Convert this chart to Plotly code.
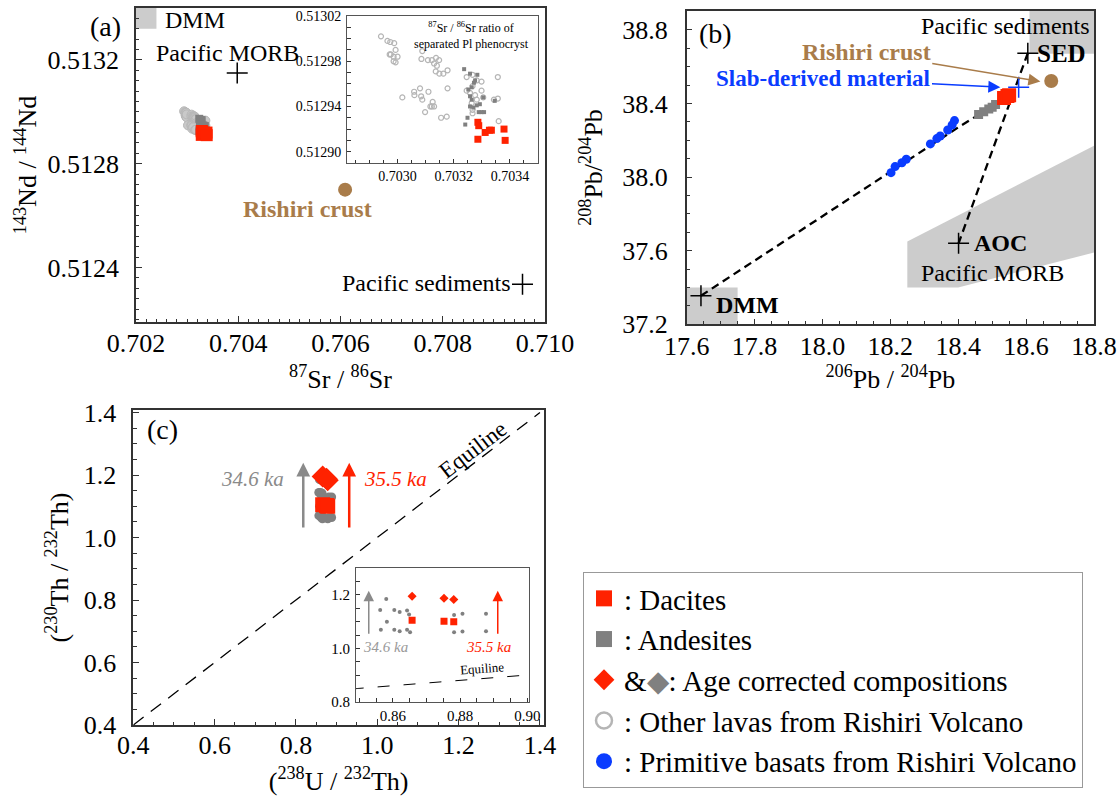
import plotly.graph_objects as go

W, H = 1120, 796
FONT = "Liberation Serif, Times New Roman, Tinos, serif"
RED = "#ff2200"
GRAY = "#808080"
LGRAY = "#c9c9c9"
BLUE = "#0a3cff"
BROWN = "#a97c4a"
REGION = "#cccccc"

# ---------------- Panel (a): Sr-Nd ----------------
other_sr = [0.702941, 0.702964, 0.702974, 0.702988, 0.702972, 0.702976, 0.702986, 0.703000,
            0.702986, 0.702993, 0.702993, 0.703088, 0.703085, 0.703108, 0.703122, 0.703137,
            0.703148, 0.703130, 0.703140, 0.703136, 0.703149, 0.703163, 0.703178, 0.703246,
            0.703267, 0.703282, 0.703299, 0.703267, 0.703246, 0.703258, 0.703276, 0.703282,
            0.703299, 0.703305, 0.703357, 0.703357, 0.703343, 0.703360, 0.703178, 0.703110,
            0.703080, 0.703059, 0.703060, 0.703017, 0.703084, 0.703088, 0.703098, 0.703125,
            0.703122, 0.703130, 0.703117, 0.703155, 0.703175, 0.703264, 0.703267, 0.703267]
other_nd = [0.513002, 0.512998, 0.512997, 0.512996, 0.512986, 0.512986, 0.512984, 0.512984,
            0.512980, 0.512979, 0.512990, 0.512989, 0.512982, 0.512981, 0.512981, 0.512983,
            0.512981, 0.512978, 0.512976, 0.512971, 0.512969, 0.512969, 0.512972, 0.512966,
            0.512968, 0.512963, 0.512962, 0.512958, 0.512954, 0.512952, 0.512950, 0.512946,
            0.512954, 0.512948, 0.512966, 0.512947, 0.512946, 0.512927, 0.512956, 0.512953,
            0.512956, 0.512953, 0.512950, 0.512948, 0.512949, 0.512946, 0.512935, 0.512944,
            0.512940, 0.512940, 0.512940, 0.512930, 0.512931, 0.512943, 0.512937, 0.512934]
and_sr = [0.703237, 0.703258, 0.703284, 0.703276, 0.703272, 0.703264, 0.703252, 0.703258,
          0.703264, 0.703258, 0.703270, 0.703282, 0.703293, 0.703289, 0.703299, 0.703308,
          0.703305, 0.703346, 0.703249, 0.703241]
and_nd = [0.512973, 0.512969, 0.512968, 0.512963, 0.512961, 0.512957, 0.512955, 0.512949,
          0.512946, 0.512940, 0.512939, 0.512941, 0.512942, 0.512935, 0.512935, 0.512935,
          0.512948, 0.512945, 0.512930, 0.512924]
dac_sr = [0.703286, 0.703289, 0.703286, 0.703312, 0.703327, 0.703334, 0.703379, 0.703383]
dac_nd = [0.512926, 0.512923, 0.512911, 0.512917, 0.512919, 0.512919, 0.512920, 0.512910]
em_a_names = ["Pacific MORB", "Pacific sediments"]
em_a_sr = [0.70398, 0.70956]
em_a_nd = [0.51315, 0.512335]
crust_a_sr = [0.70609]
crust_a_nd = [0.51270]
dmm_a_sr = [0.7020, 0.70240]
dmm_a_nd = [0.51332, 0.51345]
pl_band_sr = [0.70332, 0.70335]

# ---------------- Panel (b): Pb-Pb ----------------
bas_pb6 = [18.389, 18.382, 18.369, 18.347, 18.337, 18.318, 18.247, 18.234, 18.214, 18.202]
bas_pb8 = [38.307, 38.283, 38.256, 38.223, 38.209, 38.180, 38.097, 38.078, 38.057, 38.024]
and_pb6 = [18.460, 18.475, 18.490, 18.500, 18.510]
and_pb8 = [38.340, 38.355, 38.370, 38.380, 38.395]
dac_pb6 = [18.535, 18.545, 18.550]
dac_pb8 = [38.430, 38.440, 38.445]
crust_pb6 = [18.674]
crust_pb8 = [38.522]
slab_pb6 = [18.578]
slab_pb8 = [38.488]
em_b_names = ["DMM", "AOC", "SED"]
em_b_pb6 = [17.642, 18.401, 18.605]
em_b_pb8 = [37.355, 37.640, 38.673]
mix_dmm_pb6 = [17.642, 17.70, 17.80, 17.90, 18.00, 18.10, 18.20, 18.30, 18.40, 18.50, 18.545]
mix_dmm_pb8 = [37.355, 37.425, 37.545, 37.665, 37.785, 37.905, 38.025, 38.145, 38.270, 38.385, 38.440]
mix_aoc_pb6 = [18.605, 18.401]
mix_aoc_pb8 = [38.673, 37.640]
dmm_b_pb6 = [17.60, 17.75]
dmm_b_pb8 = [37.20, 37.40]
sed_b_pb6 = [18.61, 18.80]
sed_b_pb8 = [38.67, 38.95]
morb_b_pb6 = [18.25, 18.80, 18.80, 18.40, 18.25]
morb_b_pb8 = [37.65, 38.17, 37.59, 37.40, 37.40]

# ---------------- Panel (c): U-Th ----------------
andc_u = [0.8562, 0.8580, 0.8604, 0.8620, 0.8642, 0.8648, 0.8582, 0.8564, 0.8604,
          0.8620, 0.8642, 0.8651, 0.8782, 0.8807, 0.8877, 0.8782, 0.8807, 0.8877]
andc_th = [1.144, 1.185, 1.144, 1.136, 1.142, 1.127, 1.100, 1.070, 1.070,
           1.064, 1.070, 1.060, 1.125, 1.130, 1.130, 1.060, 1.063, 1.064]
dacc_u = [0.8657, 0.8752, 0.8781]
dacc_th = [1.105, 1.102, 1.100]
dacc_age_u = [0.8657, 0.8752, 0.8781]
dacc_age_th = [1.195, 1.188, 1.183]
equiline = [0.4, 1.4]
equiline_inset = [0.84, 0.91]
age_arrow_u = [0.818, 0.931]
age_arrow_th = [1.027, 1.239]
age_arrow_u_inset = [0.8528, 0.8912]
age_arrow_th_inset = [1.049, 1.216]
age_labels = ["34.6 ka", "35.5 ka"]


def xdom(p0, p1):
    return [p0 / W, p1 / W]


def ydom(top, bottom):
    return [1 - bottom / H, 1 - top / H]


def axis(size, **kw):
    d = dict(showline=True, linecolor="#333333", linewidth=1.5, mirror=True,
             ticks="inside", ticklen=6, tickwidth=1.2, tickcolor="#333333",
             showgrid=False, zeroline=False, automargin=False,
             tickfont=dict(family=FONT, size=size, color="black"),
             minor=dict(ticks="inside", ticklen=3.5, tickwidth=1, tickcolor="#333333", showgrid=False))
    d.update(kw)
    return d


fig = go.Figure()

# ---- Panel (a) main ----
fig.add_trace(go.Scatter(x=other_sr, y=other_nd, mode="markers", xaxis="x", yaxis="y",
                         marker=dict(symbol="circle", size=9, color=LGRAY, line=dict(color="#b8b8b8", width=1)),
                         legendgroup="oth", showlegend=False, name="Other lavas"))
fig.add_trace(go.Scatter(x=and_sr, y=and_nd, mode="markers", xaxis="x", yaxis="y",
                         marker=dict(symbol="square", size=8, color=GRAY),
                         legendgroup="and", showlegend=False, name="Andesites"))
fig.add_trace(go.Scatter(x=dac_sr, y=dac_nd, mode="markers", xaxis="x", yaxis="y",
                         marker=dict(symbol="square", size=12, color=RED),
                         legendgroup="dac", showlegend=False, name="Dacites"))
fig.add_trace(go.Scatter(x=em_a_sr, y=em_a_nd, mode="markers", xaxis="x", yaxis="y",
                         marker=dict(symbol="cross-thin", size=15, line=dict(color="black", width=1.5)),
                         showlegend=False, name="End-members", text=em_a_names))
fig.add_trace(go.Scatter(x=crust_a_sr, y=crust_a_nd, mode="markers", xaxis="x", yaxis="y",
                         marker=dict(symbol="circle", size=14, color=BROWN),
                         showlegend=False, name="Rishiri crust"))

# ---- Panel (a) inset ----
fig.add_trace(go.Scatter(x=other_sr, y=other_nd, mode="markers", xaxis="x2", yaxis="y2",
                         marker=dict(symbol="circle-open", size=5, color="#b5b5b5", line=dict(width=1.2)),
                         legendgroup="oth", showlegend=False, name="Other lavas"))
fig.add_trace(go.Scatter(x=and_sr, y=and_nd, mode="markers", xaxis="x2", yaxis="y2",
                         marker=dict(symbol="square", size=4, color=GRAY),
                         legendgroup="and", showlegend=False, name="Andesites"))
fig.add_trace(go.Scatter(x=dac_sr, y=dac_nd, mode="markers", xaxis="x2", yaxis="y2",
                         marker=dict(symbol="square", size=7, color=RED),
                         legendgroup="dac", showlegend=False, name="Dacites"))

# ---- Panel (b) ----
fig.add_trace(go.Scatter(x=mix_dmm_pb6, y=mix_dmm_pb8, mode="lines", xaxis="x3", yaxis="y3",
                         line=dict(color="black", width=2.3, dash="8px,5px"), showlegend=False,
                         name="DMM-slab mixing"))
fig.add_trace(go.Scatter(x=mix_aoc_pb6, y=mix_aoc_pb8, mode="lines", xaxis="x3", yaxis="y3",
                         line=dict(color="black", width=2.3, dash="8px,5px"), showlegend=False,
                         name="AOC-SED mixing"))
fig.add_trace(go.Scatter(x=bas_pb6, y=bas_pb8, mode="markers", xaxis="x3", yaxis="y3",
                         marker=dict(symbol="circle", size=9, color=BLUE),
                         legendgroup="bas", showlegend=False, name="Primitive basalts"))
fig.add_trace(go.Scatter(x=and_pb6, y=and_pb8, mode="markers", xaxis="x3", yaxis="y3",
                         marker=dict(symbol="square", size=9, color=GRAY),
                         legendgroup="and", showlegend=False, name="Andesites"))
fig.add_trace(go.Scatter(x=dac_pb6, y=dac_pb8, mode="markers", xaxis="x3", yaxis="y3",
                         marker=dict(symbol="square", size=14, color=RED),
                         legendgroup="dac", showlegend=False, name="Dacites"))
fig.add_trace(go.Scatter(x=crust_pb6, y=crust_pb8, mode="markers", xaxis="x3", yaxis="y3",
                         marker=dict(symbol="circle", size=14, color=BROWN),
                         showlegend=False, name="Rishiri crust"))
fig.add_trace(go.Scatter(x=slab_pb6, y=slab_pb8, mode="markers", xaxis="x3", yaxis="y3",
                         marker=dict(symbol="cross-thin", size=15, line=dict(color=BLUE, width=1.5)),
                         showlegend=False, name="Slab-derived material"))
fig.add_trace(go.Scatter(x=em_b_pb6, y=em_b_pb8, mode="markers", xaxis="x3", yaxis="y3",
                         marker=dict(symbol="cross-thin", size=15, line=dict(color="black", width=1.5)),
                         showlegend=False, name="End-members", text=em_b_names))

# ---- Panel (c) main ----
fig.add_trace(go.Scatter(x=equiline, y=equiline, mode="lines", xaxis="x4", yaxis="y4",
                         line=dict(color="black", width=1.3, dash="13px,9px"), showlegend=False,
                         name="Equiline"))
fig.add_trace(go.Scatter(x=andc_u, y=andc_th, mode="markers", xaxis="x4", yaxis="y4",
                         marker=dict(symbol="circle", size=9, color=GRAY),
                         legendgroup="and", showlegend=False, name="Andesites"))
fig.add_trace(go.Scatter(x=dacc_u, y=dacc_th, mode="markers", xaxis="x4", yaxis="y4",
                         marker=dict(symbol="square", size=15, color=RED),
                         legendgroup="dac", showlegend=False, name="Dacites"))
fig.add_trace(go.Scatter(x=dacc_age_u, y=dacc_age_th, mode="markers", xaxis="x4", yaxis="y4",
                         marker=dict(symbol="diamond", size=17, color=RED),
                         legendgroup="age", showlegend=False, name="Age corrected"))

# ---- Panel (c) inset ----
fig.add_trace(go.Scatter(x=equiline_inset, y=equiline_inset, mode="lines", xaxis="x5", yaxis="y5",
                         line=dict(color="black", width=1, dash="12px,14px"), showlegend=False,
                         name="Equiline"))
fig.add_trace(go.Scatter(x=andc_u, y=andc_th, mode="markers", xaxis="x5", yaxis="y5",
                         marker=dict(symbol="circle", size=4, color=GRAY),
                         legendgroup="and", showlegend=False, name="Andesites"))
fig.add_trace(go.Scatter(x=dacc_u, y=dacc_th, mode="markers", xaxis="x5", yaxis="y5",
                         marker=dict(symbol="square", size=7, color=RED),
                         legendgroup="dac", showlegend=False, name="Dacites"))
fig.add_trace(go.Scatter(x=dacc_age_u, y=dacc_age_th, mode="markers", xaxis="x5", yaxis="y5",
                         marker=dict(symbol="diamond", size=7, color=RED),
                         legendgroup="age", showlegend=False, name="Age corrected"))

# ---- legend entries ----
legend_items = [
    ("dac", ": Dacites", dict(symbol="square", size=16, color=RED)),
    ("and", ": Andesites", dict(symbol="square", size=16, color=GRAY)),
    ("age", '&<span style="color:#808080">\u25c6</span>: Age corrected compositions',
     dict(symbol="diamond", size=16, color=RED)),
    ("oth", ": Other lavas from Rishiri Volcano",
     dict(symbol="circle-open", size=16, color="#b5b5b5", line=dict(width=2.5))),
    ("bas", ": Primitive basats from Rishiri Volcano", dict(symbol="circle", size=16, color=BLUE)),
]
for grp, label, mk in legend_items:
    fig.add_trace(go.Scatter(x=[None], y=[None], mode="markers", xaxis="x4", yaxis="y4",
                             marker=mk, name=label, legendgroup=grp, showlegend=True))

# ---------------- shapes ----------------
shapes = [
    dict(type="rect", xref="x", yref="y", x0=dmm_a_sr[0], x1=dmm_a_sr[1], y0=dmm_a_nd[0], y1=dmm_a_nd[1],
         fillcolor=REGION, line=dict(width=0), layer="below"),
    dict(type="rect", xref="x2", yref="y2 domain", x0=pl_band_sr[0], x1=pl_band_sr[1], y0=0, y1=1,
         fillcolor="rgba(120,120,255,0.45)", line=dict(width=0), layer="below"),
    dict(type="rect", xref="x3", yref="y3", x0=dmm_b_pb6[0], x1=dmm_b_pb6[1], y0=dmm_b_pb8[0], y1=dmm_b_pb8[1],
         fillcolor=REGION, line=dict(width=0), layer="below"),
    dict(type="rect", xref="x3", yref="y3", x0=sed_b_pb6[0], x1=sed_b_pb6[1], y0=sed_b_pb8[0], y1=sed_b_pb8[1],
         fillcolor=REGION, line=dict(width=0), layer="below"),
    dict(type="path", xref="x3", yref="y3",
         path="M " + " L ".join(f"{a},{b}" for a, b in zip(morb_b_pb6, morb_b_pb8)) + " Z",
         fillcolor=REGION, line=dict(width=0), layer="below"),
]

# ---------------- annotations ----------------
def txt(text, x, y, xref, yref, size=24, color="black", xanchor="center", yanchor="middle",
        xshift=0, yshift=0, angle=0):
    return dict(text=text, x=x, y=y, xref=xref, yref=yref, showarrow=False,
                font=dict(family=FONT, size=size, color=color), xanchor=xanchor, yanchor=yanchor,
                xshift=xshift, yshift=yshift, textangle=angle)


ann = [
    txt("(a)", 105 / W, 1 - 27 / H, "paper", "paper", size=28),
    txt("(b)", 715 / W, 1 - 33 / H, "paper", "paper", size=28),
    txt("(c)", 162 / W, 1 - 430 / H, "paper", "paper", size=28),
    # panel a
    txt("DMM", dmm_a_sr[1], 0.513352, "x", "y", xanchor="left", xshift=7),
    txt(em_a_names[0], em_a_sr[0], em_a_nd[0], "x", "y", xshift=-10, yshift=20),
    txt(em_a_names[1], em_a_sr[1], em_a_nd[1], "x", "y", xanchor="right", xshift=-10, yshift=1),
    txt("<b>Rishiri crust</b>", crust_a_sr[0], crust_a_nd[0], "x", "y", color=BROWN, xshift=-38, yshift=-19),
    txt("<sup>87</sup>Sr / <sup>86</sup>Sr ratio of<br>separated Pl phenocryst", 0.34, 0.985,
        "x2 domain", "y2 domain", size=12, xanchor="left", yanchor="top"),
    # panel b
    txt("Pacific sediments", 18.8, 38.821, "x3", "y3", xanchor="right", xshift=-2),
    txt("<b>" + em_b_names[2] + "</b>", em_b_pb6[2], em_b_pb8[2], "x3", "y3", size=25, xanchor="left", xshift=7),
    txt("<b>" + em_b_names[1] + "</b>", em_b_pb6[1], em_b_pb8[1], "x3", "y3", size=24, xanchor="left", xshift=13),
    txt("Pacific MORB", 18.50, 37.48, "x3", "y3"),
    txt("<b>" + em_b_names[0] + "</b>", em_b_pb6[0], em_b_pb8[0], "x3", "y3", size=24, xanchor="left",
        xshift=13, yshift=-9),
    dict(text="<b>Rishiri crust</b>", x=18.642, y=38.519, ax=18.129, ay=38.677, xref="x3", yref="y3",
         axref="x3", ayref="y3", showarrow=True, arrowhead=2, arrowsize=1.6, arrowwidth=1.5,
         arrowcolor=BROWN, font=dict(family=FONT, size=24, color=BROWN)),
    dict(text="<b>Slab-derived material</b>", x=18.524, y=38.488, ax=18.003, ay=38.537, xref="x3", yref="y3",
         axref="x3", ayref="y3", showarrow=True, arrowhead=2, arrowsize=1.6, arrowwidth=1.5,
         arrowcolor=BLUE, font=dict(family=FONT, size=23, color=BLUE)),
    # panel c
    txt("<i>" + age_labels[0] + "</i>", 0.7755, 1.186, "x4", "y4", size=21, color="#8a8a8a", xanchor="right"),
    txt("<i>" + age_labels[1] + "</i>", 0.9617, 1.186, "x4", "y4", size=21, color=RED, xanchor="left"),
    txt("Equiline", 1.236, 1.281, "x4", "y4", size=23, angle=-37.5),
    txt("<i>" + age_labels[0] + "</i>", 0.8505, 1.006, "x5", "y5", size=15, color="#9a9a9a", xanchor="left"),
    txt("<i>" + age_labels[1] + "</i>", 0.8810, 1.006, "x5", "y5", size=15, color=RED, xanchor="left"),
    txt("Equiline", 0.8864, 0.926, "x5", "y5", size=13, angle=-4),
]
arrow_specs = [
    ("x4", "y4", age_arrow_u[0], age_arrow_th, "#8a8a8a", 2.5, 1.1),
    ("x4", "y4", age_arrow_u[1], age_arrow_th, RED, 2.5, 1.1),
    ("x5", "y5", age_arrow_u_inset[0], age_arrow_th_inset, "#8a8a8a", 1.5, 1.4),
    ("x5", "y5", age_arrow_u_inset[1], age_arrow_th_inset, RED, 1.5, 1.4),
]
for xr, yr, u, th, col, wd, sz in arrow_specs:
    ann.append(dict(text="", x=u, y=th[1], ax=u, ay=th[0], xref=xr, yref=yr, axref=xr, ayref=yr,
                    showarrow=True, arrowhead=2, arrowsize=sz, arrowwidth=wd, arrowcolor=col))

title_font = dict(family=FONT, size=26, color="black")

fig.update_layout(
    width=W, height=H, autosize=False,
    margin=dict(l=0, r=0, t=0, b=0),
    paper_bgcolor="white", plot_bgcolor="white",
    font=dict(family=FONT, color="black"),
    showlegend=True,
    legend=dict(x=583 / W, y=1 - 572 / H, xanchor="left", yanchor="top",
                font=dict(family=FONT, size=29, color="black"),
                bordercolor="#999999", borderwidth=1, bgcolor="white",
                tracegroupgap=0, traceorder="grouped"),
    shapes=shapes,
    annotations=ann,
    xaxis=axis(26, domain=xdom(136, 545), range=[0.702, 0.710], anchor="y", dtick=0.002, tick0=0.702,
               tickformat=".3f", ticklabelstandoff=-3,
               title=dict(text="<sup>87</sup>Sr / <sup>86</sup>Sr", font=title_font, standoff=13)),
    yaxis=axis(26, domain=ydom(8, 322), range=[0.51219, 0.51340], anchor="x", dtick=0.0004, tick0=0.5124,
               tickformat=".4f", ticklabelstandoff=10,
               title=dict(text="<sup>143</sup>Nd / <sup>144</sup>Nd", font=title_font, standoff=3)),
    xaxis2=axis(14, domain=xdom(347, 538), range=[0.70282, 0.70350], anchor="y2", dtick=0.0002, tick0=0.7030,
                tickformat=".4f", linewidth=1, linecolor="#555555", ticklen=4, ticklabelstandoff=0),
    yaxis2=axis(14, domain=ydom(16, 163), range=[0.51289, 0.51302], anchor="x2", dtick=0.00004, tick0=0.5129,
                tickformat=".5f", linewidth=1, linecolor="#555555", ticklen=4, ticklabelstandoff=2),
    xaxis3=axis(26, domain=xdom(686.7, 1094), range=[17.6, 18.8], anchor="y3", dtick=0.2, tick0=17.6,
                tickformat=".1f", ticklabelstandoff=-2,
                title=dict(text="<sup>206</sup>Pb / <sup>204</sup>Pb", font=title_font, standoff=9)),
    yaxis3=axis(26, domain=ydom(10.7, 324.3), range=[37.2, 38.904], anchor="x3", dtick=0.4, tick0=37.2,
                tickformat=".1f", ticklabelstandoff=12,
                title=dict(text="<sup>208</sup>Pb/<sup>204</sup>Pb", font=title_font, standoff=12)),
    xaxis4=axis(26, domain=xdom(133.3, 544), range=[0.4, 1.41], anchor="y4", dtick=0.2, tick0=0.4,
                tickformat=".1f", ticklabelstandoff=-4,
                title=dict(text="(<sup>238</sup>U / <sup>232</sup>Th)", font=title_font, standoff=18)),
    yaxis4=axis(26, domain=ydom(410, 725), range=[0.4, 1.408], anchor="x4", dtick=0.2, tick0=0.4,
                tickformat=".1f", ticklabelstandoff=10,
                title=dict(text="(<sup>230</sup>Th / <sup>232</sup>Th)", font=title_font, standoff=8)),
    xaxis5=axis(15, domain=xdom(356, 529), range=[0.849, 0.9005], anchor="y5", dtick=0.02, tick0=0.86,
                tickformat=".2f", linewidth=1, linecolor="#555555", ticklen=4, ticklabelstandoff=0),
    yaxis5=axis(15, domain=ydom(568.3, 701.7), range=[0.8, 1.3], anchor="x5", dtick=0.2, tick0=0.8,
                tickformat=".1f", linewidth=1, linecolor="#555555", ticklen=4, ticklabelstandoff=2),
)
fig.update_layout(
    xaxis=dict(minor=dict(dtick=0.0002)), yaxis=dict(minor=dict(dtick=0.00004)),
    xaxis2=dict(minor=dict(dtick=0.00005)), yaxis2=dict(minor=dict(dtick=0.00001)),
    xaxis3=dict(minor=dict(dtick=0.05)), yaxis3=dict(minor=dict(dtick=0.1)),
    xaxis4=dict(minor=dict(dtick=0.05)), yaxis4=dict(minor=dict(dtick=0.05)),
    xaxis5=dict(minor=dict(dtick=0.005)), yaxis5=dict(minor=dict(dtick=0.05)),
)

fig.write_html("out.html")
